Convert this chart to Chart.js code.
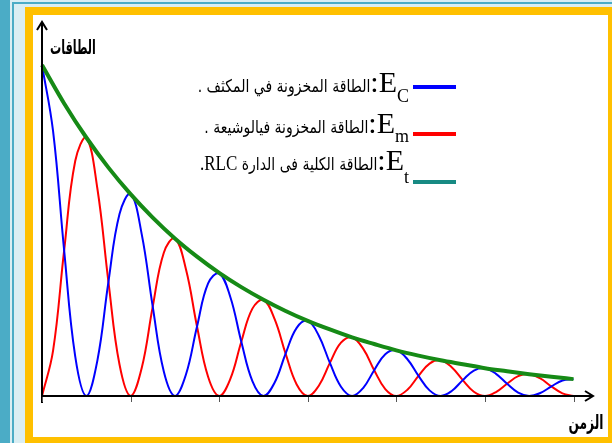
<!DOCTYPE html>
<html lang="ar">
<head>
<meta charset="utf-8">
<script src="https://cdn.jsdelivr.net/npm/chart.js"></script>
<style>
  body { margin: 0; width: 612px; height: 443px; overflow: hidden; background: #DAEEF3; position: relative; }
  .strip { position: absolute; left: 0; top: 0; width: 10px; height: 443px; background: #4BACC6; }
  .vline { position: absolute; left: 12px; top: 2px; width: 2px; height: 441px; background: #4BACC6; }
  .hline { position: absolute; left: 12px; top: 2px; width: 600px; height: 2px; background: #4BACC6; }
  .frame { position: absolute; left: 25px; top: 7px; width: 575px; height: 422px; border: 8px solid #FFC000; background: #fff; }
  #wrap { position: absolute; left: 33px; top: 15px; width: 575px; height: 422px; }
  .axis-label { position: absolute; font-family: "DejaVu Sans"; font-weight: bold; font-size: 18px; line-height: 20px; color: #000; direction: rtl; white-space: nowrap; }
  .leg-row { position: absolute; right: 203px; direction: rtl; white-space: nowrap; line-height: 30px; font-family: "Liberation Serif"; font-size: 30px; color: #000; }
  .leg-row .ar { font-family: "DejaVu Sans"; font-size: 14px; display: inline-block; transform: scale(1, 1.25); transform-origin: center 70%; }
  .leg-row .lat { font-family: "Liberation Serif"; font-size: 17px; }
  .leg-row .sub { font-size: 18px; position: relative; }
  .leg-line { position: absolute; left: 413px; width: 43px; height: 4px; }
</style>
</head>
<body>
<div class="strip"></div>
<div class="vline"></div>
<div class="hline"></div>
<div class="frame"></div>
<div id="wrap"><canvas id="energyChart"></canvas></div>
<div class="axis-label" style="left: 50px; top: 36px; transform: scale(0.62, 1.1); transform-origin: left top;">الطاقات</div>
<div class="axis-label" style="right: 9px; top: 411px; transform: scale(0.68, 1.1); transform-origin: right top;">الزمن</div>
<div id="legend"></div>

<script>
// time, in units of the tick spacing (one energy oscillation per tick)
const timeTicks = [0, 1, 2, 3, 4, 5, 6];
const tValues = [0, 0.125, 0.25, 0.375, 0.5, 0.625, 0.75, 0.875,
                 1, 1.125, 1.25, 1.375, 1.5, 1.625, 1.75, 1.875,
                 2, 2.125, 2.25, 2.375, 2.5, 2.625, 2.75, 2.875,
                 3, 3.125, 3.25, 3.375, 3.5, 3.625, 3.75, 3.875,
                 4, 4.125, 4.25, 4.375, 4.5, 4.625, 4.75, 4.875,
                 5, 5.125, 5.25, 5.375, 5.5, 5.625, 5.75, 5.875, 6];

// energies (E0 = 100)
const ecValues = [100, 80, 44, 12, 0, 10.7, 34.5, 55,
                  61, 49, 27, 7.4, 0, 6.5, 21, 34,
                  37, 30, 16.4, 4.5, 0, 4, 12.8, 20.6,
                  22.7, 18.2, 10, 2.8, 0, 2.4, 7.8, 12.6,
                  13.8, 11.1, 6.1, 1.7, 0, 1.5, 4.8, 7.7,
                  8.4, 6.7, 3.7, 1, 0, 0.9, 2.9, 4.7, 5.1];
const emValues = [0, 13.7, 44, 71, 78, 62.7, 34.5, 9.5,
                  0, 8.4, 27, 43.3, 47.6, 38.3, 21, 5.8,
                  0, 5.1, 16.4, 26.4, 29, 23.3, 12.8, 3.5,
                  0, 3.1, 10, 16.1, 17.7, 14.3, 7.8, 2.1,
                  0, 1.9, 6.1, 9.8, 10.8, 8.7, 4.8, 1.3,
                  0, 1.2, 3.7, 6, 6.6, 5.3, 2.9, 0.8, 0];
const etTimes = [0, 0.25, 0.5, 0.75, 1, 1.25, 1.5, 1.75, 2, 2.25, 2.5, 2.75, 3,
                 3.25, 3.5, 3.75, 4, 4.25, 4.5, 4.75, 5, 5.25, 5.5, 5.75, 6];
const etValues = [100, 88.4, 78.1, 69, 61, 53.9, 47.6, 42.1, 37.2, 32.9, 29.1, 25.7, 22.7,
                  20.1, 17.7, 15.7, 13.8, 12.2, 10.8, 9.6, 8.4, 7.5, 6.6, 5.8, 5.1];

const seriesSymbols = ['C', 'm', 't'];
const seriesTexts = ['الطاقة المخزونة في المكثف .', 'الطاقة المخزونة فيالوشيعة .', 'الطاقة الكلية فى الدارة '];
const seriesColors = ['#0000FF', '#FF0000', '#168A16'];
const legendColors = ['#0000FF', '#FF0000', '#178A83'];

const toPoints = (times, vals) => vals.map((v, i) => ({ x: times[i], y: v }));

// axes with arrow heads and small ticks under the time axis
const axesPlugin = {
    id: 'arrowAxes',
    afterDatasetsDraw(chart) {
        const { ctx, chartArea, scales } = chart;
        const x0 = scales.x.getPixelForValue(0);
        const y0 = scales.y.getPixelForValue(0);
        const top = chartArea.top;
        const right = chartArea.right;
        ctx.save();
        ctx.strokeStyle = '#000';
        ctx.lineWidth = 2;
        ctx.beginPath();
        ctx.moveTo(x0, y0 + 7);
        ctx.lineTo(x0, top);
        ctx.moveTo(x0 - 5, top + 8);
        ctx.lineTo(x0, top);
        ctx.lineTo(x0 + 5, top + 8);
        ctx.moveTo(x0 - 1, y0);
        ctx.lineTo(right, y0);
        ctx.moveTo(right - 8, y0 - 5);
        ctx.lineTo(right, y0);
        ctx.lineTo(right - 8, y0 + 5);
        ctx.stroke();

        ctx.lineWidth = 1;
        ctx.strokeStyle = '#555';
        ctx.beginPath();
        timeTicks.forEach(t => {
            const px = Math.round(scales.x.getPixelForValue(t)) + 0.5;
            ctx.moveTo(px, y0 + 1);
            ctx.lineTo(px, y0 + 6);
        });
        ctx.stroke();
        ctx.restore();
    }
};

new Chart(document.getElementById('energyChart'), {
    type: 'line',
    data: {
        datasets: [
            { label: 'Ec', data: toPoints(tValues, ecValues), borderColor: seriesColors[0], borderWidth: 2, order: 1 },
            { label: 'Em', data: toPoints(tValues, emValues), borderColor: seriesColors[1], borderWidth: 2, order: 2 },
            { label: 'Et', data: toPoints(etTimes, etValues), borderColor: seriesColors[2], borderWidth: 4, order: 0,
              cubicInterpolationMode: 'monotone' }
        ]
    },
    options: {
        responsive: true,
        maintainAspectRatio: false,
        animation: false,
        devicePixelRatio: 1,
        layout: { padding: { left: 9, right: 15, top: 7, bottom: 41 } },
        elements: {
            point: { radius: 0 },
            line: { tension: 0.4, fill: false }
        },
        datasets: { line: { clip: false } },
        plugins: { legend: { display: false }, tooltip: { enabled: false } },
        scales: {
            x: { type: 'linear', min: 0, max: 6.22, display: false },
            y: { min: 0, max: 113, display: false }
        }
    },
    plugins: [axesPlugin]
});

// legend: symbol with subscript, Arabic description, colour sample
const legendTops = [67, 108, 145];
const lineTops = [85, 132, 180];
const subOffsets = [10, 9, 13];
const legend = document.getElementById('legend');
seriesSymbols.forEach((s, i) => {
    const row = document.createElement('div');
    row.className = 'leg-row';
    row.style.top = legendTops[i] + 'px';
    let text = seriesTexts[i];
    if (i === 2) text += '<span class="lat">RLC.</span>';
    row.innerHTML = 'E<span class="sub" style="top:' + subOffsets[i] + 'px">' + s + '</span>:<span class="ar">' + text + '</span>';
    legend.appendChild(row);

    const sample = document.createElement('div');
    sample.className = 'leg-line';
    sample.style.top = lineTops[i] + 'px';
    sample.style.background = legendColors[i];
    legend.appendChild(sample);
});
</script>
</body>
</html>
